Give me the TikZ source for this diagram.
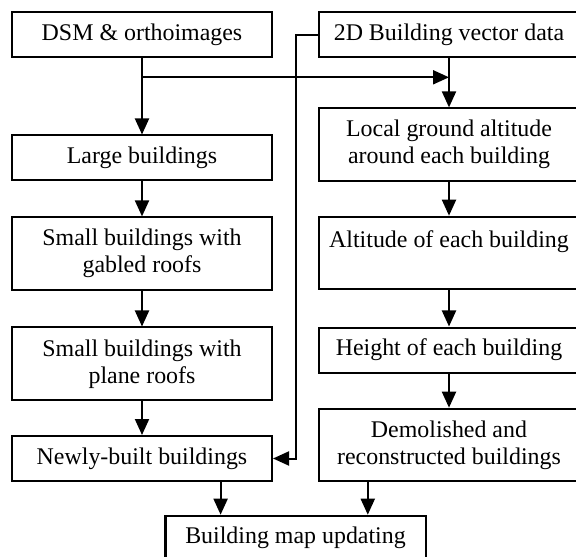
\documentclass[tikz,border=0pt]{standalone}
\usepackage{fontspec}
\setmainfont{Liberation Serif}
\usetikzlibrary{arrows.meta,positioning,calc}

\begin{document}
\begin{tikzpicture}[x=0.5bp, y=-0.5bp, >={Triangle[length=8bp,width=7bp]},
  font=\fontsize{12}{13.5}\selectfont, line width=1bp,
  box/.style={draw, line width=1bp, minimum width=130bp, minimum height=22.5bp, inner sep=2pt, align=center},
  tall/.style={box, minimum height=36.3bp}]
\useasboundingbox (0,0) rectangle (576,557);
% left column: detection from DSM
\node[box] (dsm) at (142,34.7) {DSM \& orthoimages};
\node[box] (large) at (142,158) {Large buildings};
\node[tall] (gabled) at (142,253.7) {Small buildings with\\gabled roofs};
\node[tall] (plane) at (142,363.8) {Small buildings with\\plane roofs};
\node[box] (newly) at (142,458.5) {Newly-built buildings};
% right column: vector data
\node[box] (vec) at (449,34.7) {2D Building vector data};
\node[tall] (local) at (449,144.7) {Local ground altitude\\around each building};
\node[tall] (alt) at (449,253) {Altitude of each building\\~};
\node[box] (height) at (449,350) {Height of each building};
\node[tall] (demol) at (449,445) {Demolished and\\reconstructed buildings};
\node[box] (upd) at (295.5,538.2) {Building map updating};
% vertical flow
\draw[->] (dsm) -- (large);
\draw[->] (large) -- (gabled);
\draw[->] (gabled) -- (plane);
\draw[->] (plane) -- (newly);
\draw[->] (vec) -- (local);
\draw[->] (local) -- (alt);
\draw[->] (alt) -- (height);
\draw[->] (height) -- (demol);
% DSM also feeds the right column
\coordinate (split) at (142,77.3);
\draw[->] (split) -- (split -| vec);
% vector data passed down to newly-built buildings
\coordinate (bus) at (296,0);
\draw[->] (vec.west) -- (vec.west -| bus) -- (newly.east -| bus) -- (newly.east);
% into the map update
\coordinate (a1) at ($(newly.south west)!0.8!(newly.south east)$);
\coordinate (a2) at ($(demol.south west)!0.19!(demol.south east)$);
\draw[->] (a1) -- (a1 |- upd.north);
\draw[->] (a2) -- (a2 |- upd.north);
\end{tikzpicture}
\end{document}
